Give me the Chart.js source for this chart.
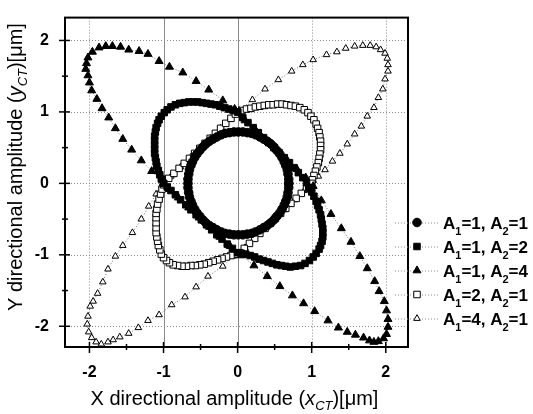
<!DOCTYPE html>
<html>
<head>
<meta charset="utf-8">
<script src="https://cdn.jsdelivr.net/npm/chart.js"></script>
<style>
  html, body { margin: 0; padding: 0; background: #fff; }
  #wrap { width: 533px; height: 414px; }
</style>
</head>
<body>
<div id="wrap"><canvas id="grafico" width="533" height="414"></canvas></div>
<script>
// Amplitudes A1 / A2 of each trace
const a1Values = [1, 1, 1, 2, 4];
const a2Values = [1, 2, 4, 1, 1];

// Axis ticks (major with label, minor without)
const xTicks = [-2, -1, 0, 1, 2];
const yTicks = [-2, -1, 0, 1, 2];
const xMinor = [-1.5, -0.5, 0.5, 1.5];
const yMinor = [-1.5, -0.5, 0.5, 1.5];

// Trajectories, [x, y] in um
const orbit11 = [
  [0.69,0.00],[0.69,0.06],[0.68,0.13],[0.67,0.19],[0.65,0.25],[0.63,0.30],[0.60,0.36],[0.57,0.41],[0.53,0.46],[0.49,0.51],[0.45,0.55],[0.40,0.59],[0.35,0.62],[0.30,0.65],[0.24,0.68],[0.19,0.70],[0.13,0.71],[0.07,0.72],
  [0.01,0.72],[-0.05,0.72],[-0.11,0.71],[-0.17,0.70],[-0.22,0.68],[-0.28,0.65],[-0.33,0.62],[-0.38,0.59],[-0.43,0.55],[-0.47,0.51],[-0.51,0.46],[-0.55,0.41],[-0.58,0.36],[-0.61,0.30],[-0.63,0.25],[-0.65,0.19],[-0.66,0.13],[-0.67,0.06],
  [-0.67,0.00],[-0.67,-0.06],[-0.66,-0.13],[-0.65,-0.19],[-0.63,-0.25],[-0.61,-0.30],[-0.58,-0.36],[-0.55,-0.41],[-0.51,-0.46],[-0.47,-0.51],[-0.43,-0.55],[-0.38,-0.59],[-0.33,-0.62],[-0.28,-0.65],[-0.22,-0.68],[-0.17,-0.70],[-0.11,-0.71],[-0.05,-0.72],
  [0.01,-0.72],[0.07,-0.72],[0.13,-0.71],[0.19,-0.70],[0.24,-0.68],[0.30,-0.65],[0.35,-0.62],[0.40,-0.59],[0.45,-0.55],[0.49,-0.51],[0.53,-0.46],[0.57,-0.41],[0.60,-0.36],[0.63,-0.30],[0.65,-0.25],[0.67,-0.19],[0.68,-0.13],[0.69,-0.06],[0.69,0.00]
];

const orbit12 = [
  [-1.00,0.00],[-1.03,0.06],[-1.05,0.12],[-1.07,0.18],[-1.09,0.24],[-1.10,0.30],[-1.11,0.36],[-1.12,0.42],[-1.12,0.48],[-1.12,0.54],[-1.12,0.60],[-1.12,0.66],[-1.11,0.72],[-1.10,0.78],[-1.08,0.84],[-1.06,0.89],[-1.03,0.94],[-0.99,0.99],[-0.95,1.03],[-0.90,1.07],[-0.84,1.10],[-0.78,1.12],[-0.72,1.13],[-0.66,1.14],[-0.60,1.14],[-0.54,1.14],[-0.48,1.13],[-0.42,1.12],[-0.36,1.11],[-0.30,1.10],[-0.24,1.08],[-0.18,1.06],[-0.12,1.04],[-0.06,1.02],[0.00,1.00],
  [0.07,0.92],[0.14,0.85],[0.21,0.78],[0.28,0.71],[0.35,0.64],[0.42,0.57],[0.49,0.50],[0.56,0.43],[0.63,0.36],[0.70,0.29],[0.76,0.22],[0.82,0.15],[0.88,0.08],[0.93,0.01],
  [0.96,-0.06],[1.00,-0.12],[1.03,-0.18],[1.06,-0.25],[1.08,-0.31],[1.10,-0.37],[1.12,-0.44],[1.13,-0.50],[1.14,-0.57],[1.15,-0.63],[1.15,-0.69],[1.15,-0.75],[1.14,-0.81],[1.12,-0.87],[1.10,-0.92],[1.06,-0.98],[1.02,-1.03],[0.97,-1.08],[0.91,-1.12],[0.85,-1.15],[0.78,-1.16],[0.71,-1.17],[0.65,-1.16],[0.59,-1.15],[0.53,-1.14],[0.47,-1.12],[0.41,-1.10],[0.35,-1.08],[0.29,-1.06],[0.23,-1.03],[0.17,-1.01],[0.11,-0.99],[0.05,-0.98],[0.00,-0.97],
  [-0.07,-0.91],[-0.14,-0.85],[-0.21,-0.78],[-0.28,-0.72],[-0.35,-0.65],[-0.42,-0.58],[-0.49,-0.51],[-0.56,-0.44],[-0.63,-0.37],[-0.70,-0.30],[-0.77,-0.23],[-0.84,-0.16],[-0.90,-0.10],[-0.95,-0.05],[-1.00,0.00]
];

const orbit14 = [
  [-1.00,0.00],[-1.16,0.17],[-1.30,0.32],[-1.43,0.47],[-1.55,0.62],[-1.65,0.77],[-1.74,0.92],[-1.83,1.05],[-1.90,1.18],[-1.97,1.30],[-2.00,1.41],[-2.02,1.51],[-2.05,1.60],[-2.04,1.68],[-2.02,1.76],[-1.96,1.84],[-1.87,1.90],[-1.78,1.92],[-1.69,1.92],[-1.58,1.91],[-1.47,1.87],[-1.33,1.85],[-1.21,1.81],[-1.06,1.71],[-0.92,1.63],[-0.74,1.55],[-0.56,1.43],[-0.39,1.31],[-0.20,1.16],[-0.04,1.04],
  [0.10,0.88],[0.24,0.75],[0.38,0.61],[0.52,0.48],[0.66,0.34],[0.80,0.20],[0.92,0.08],
  [1.02,-0.04],[1.13,-0.24],[1.26,-0.43],[1.40,-0.63],[1.53,-0.82],[1.65,-1.02],[1.75,-1.19],[1.85,-1.37],[1.91,-1.51],[1.98,-1.65],[2.01,-1.78],[2.03,-1.90],[2.03,-2.01],[2.01,-2.11],[1.97,-2.17],[1.90,-2.21],[1.84,-2.22],[1.78,-2.20],[1.70,-2.16],[1.59,-2.12],[1.48,-2.08],[1.36,-2.02],[1.22,-1.92],[1.04,-1.79],[0.89,-1.68],[0.74,-1.57],[0.57,-1.44],[0.40,-1.30],[0.22,-1.15],[0.05,-1.01],
  [-0.10,-0.88],[-0.24,-0.75],[-0.38,-0.61],[-0.52,-0.48],[-0.66,-0.34],[-0.80,-0.20],[-0.92,-0.08],[-1.00,0.00]
];

const orbit21 = [
  [0.00,1.00],[0.06,1.02],[0.12,1.04],[0.18,1.05],[0.24,1.07],[0.30,1.08],[0.36,1.09],[0.42,1.10],[0.48,1.10],[0.54,1.11],[0.60,1.11],[0.66,1.10],[0.72,1.09],[0.78,1.08],[0.84,1.06],[0.90,1.03],[0.95,0.99],[0.99,0.94],[1.03,0.89],[1.06,0.83],[1.08,0.77],[1.10,0.71],[1.11,0.65],[1.12,0.59],[1.12,0.53],[1.12,0.47],[1.11,0.41],[1.10,0.35],[1.09,0.29],[1.07,0.23],[1.05,0.17],[1.03,0.11],[1.01,0.05],[1.00,0.00],
  [0.93,-0.07],[0.86,-0.14],[0.79,-0.21],[0.72,-0.28],[0.65,-0.35],[0.58,-0.42],[0.51,-0.49],[0.44,-0.56],[0.37,-0.63],[0.30,-0.70],[0.23,-0.77],[0.16,-0.84],[0.09,-0.91],[0.03,-0.97],
  [-0.03,-0.99],[-0.09,-1.01],[-0.15,-1.03],[-0.21,-1.05],[-0.27,-1.07],[-0.33,-1.09],[-0.39,-1.11],[-0.45,-1.13],[-0.51,-1.14],[-0.57,-1.15],[-0.63,-1.15],[-0.69,-1.16],[-0.75,-1.16],[-0.81,-1.15],[-0.87,-1.14],[-0.92,-1.11],[-0.96,-1.08],[-1.00,-1.04],[-1.03,-0.99],[-1.05,-0.93],[-1.07,-0.87],[-1.08,-0.81],[-1.09,-0.75],[-1.10,-0.69],[-1.10,-0.62],[-1.10,-0.55],[-1.10,-0.48],[-1.10,-0.42],[-1.09,-0.36],[-1.08,-0.29],[-1.06,-0.22],[-1.04,-0.15],[-1.02,-0.08],[-1.00,-0.02],
  [-0.93,0.07],[-0.86,0.14],[-0.79,0.21],[-0.72,0.28],[-0.65,0.35],[-0.58,0.42],[-0.51,0.49],[-0.44,0.56],[-0.37,0.63],[-0.30,0.70],[-0.23,0.77],[-0.16,0.84],[-0.09,0.91],[-0.03,0.97],[0.00,1.00]
];

const orbit41 = [
  [0.02,1.02],[0.20,1.17],[0.37,1.32],[0.55,1.45],[0.73,1.57],[0.88,1.66],[1.02,1.73],[1.20,1.80],[1.34,1.84],[1.46,1.89],[1.58,1.92],[1.69,1.93],[1.79,1.93],[1.87,1.91],[1.93,1.87],[1.99,1.82],[2.02,1.75],[2.03,1.66],[2.03,1.57],[1.99,1.46],[1.96,1.32],[1.90,1.20],[1.84,1.06],[1.75,0.94],[1.67,0.80],[1.58,0.69],[1.48,0.55],[1.38,0.42],[1.28,0.31],[1.18,0.19],[1.09,0.10],[1.02,0.04],
  [0.90,-0.10],[0.77,-0.23],[0.63,-0.37],[0.50,-0.50],[0.37,-0.63],[0.23,-0.77],[0.10,-0.90],
  [-0.06,-1.02],[-0.20,-1.16],[-0.40,-1.30],[-0.56,-1.45],[-0.71,-1.59],[-0.89,-1.70],[-1.06,-1.84],[-1.21,-1.92],[-1.34,-2.02],[-1.47,-2.10],[-1.59,-2.15],[-1.68,-2.19],[-1.75,-2.22],[-1.84,-2.25],[-1.91,-2.22],[-1.97,-2.16],[-2.01,-2.08],[-2.03,-1.97],[-2.02,-1.86],[-1.99,-1.72],[-1.95,-1.65],[-1.89,-1.54],[-1.82,-1.38],[-1.75,-1.20],[-1.65,-1.02],[-1.55,-0.87],[-1.42,-0.69],[-1.30,-0.50],[-1.20,-0.32],[-1.10,-0.15],[-1.02,-0.03],
  [-0.90,0.10],[-0.77,0.23],[-0.63,0.37],[-0.50,0.50],[-0.37,0.63],[-0.23,0.77],[-0.10,0.90],[0.02,1.02]
];

const orbits = [orbit11, orbit12, orbit14, orbit21, orbit41];

// Marker look of each trace
const markers = [
  { style: 'circle',   radius: 4.3, fill: '#000' },
  { style: 'rect',     radius: 4.6, fill: '#000' },
  { style: 'triangle', radius: 4.6, fill: '#000' },
  { style: 'rect',     radius: 4.6, fill: '#fff' },
  { style: 'triangle', radius: 3.8, fill: '#fff' }
];

const FONT = "'Liberation Sans', Arial, sans-serif";

// Writes a list of text pieces [text, font, dy] one after another
function drawRuns(ctx, runs, x, y, align) {
  let total = 0;
  runs.forEach(r => { ctx.font = r[1]; total += ctx.measureText(r[0]).width; });
  let cx = align === 'center' ? x - total / 2 : x;
  ctx.textAlign = 'left';
  ctx.textBaseline = 'alphabetic';
  runs.forEach(r => {
    ctx.font = r[1];
    ctx.fillText(r[0], cx, y + r[2]);
    cx += ctx.measureText(r[0]).width;
  });
}

function drawMarker(ctx, m, x, y) {
  ctx.beginPath();
  if (m.style === 'circle') {
    ctx.arc(x, y, m.radius, 0, Math.PI * 2);
  } else if (m.style === 'rect') {
    const s = m.radius * Math.SQRT1_2;
    ctx.rect(x - s, y - s, 2 * s, 2 * s);
  } else {
    ctx.moveTo(x, y - m.radius);
    ctx.lineTo(x + m.radius * 0.866, y + m.radius * 0.5);
    ctx.lineTo(x - m.radius * 0.866, y + m.radius * 0.5);
    ctx.closePath();
  }
  ctx.fillStyle = m.fill;
  ctx.fill();
  ctx.lineWidth = 1;
  ctx.strokeStyle = '#000';
  ctx.stroke();
}

// Grid, frame, tick marks, axis titles and legend
const frame = {
  id: 'frame',
  beforeDatasetsDraw(chart) {
    const { ctx, chartArea: a, scales: { x, y } } = chart;
    ctx.save();
    ctx.lineWidth = 1;
    ctx.strokeStyle = '#8a8a8a';
    xTicks.forEach(v => {
      const px = Math.round(x.getPixelForValue(v)) + 0.5;
      ctx.setLineDash(v === -1 || v === 0 ? [] : [1, 2]);
      ctx.beginPath(); ctx.moveTo(px, a.top); ctx.lineTo(px, a.bottom); ctx.stroke();
    });
    ctx.setLineDash([1, 2]);
    yTicks.forEach(v => {
      const py = Math.round(y.getPixelForValue(v)) + 0.5;
      ctx.beginPath(); ctx.moveTo(a.left, py); ctx.lineTo(a.right, py); ctx.stroke();
    });
    ctx.restore();
  },
  afterDatasetsDraw(chart) {
    const { ctx, chartArea: a, scales: { x, y } } = chart;
    ctx.save();
    ctx.strokeStyle = '#000';
    ctx.lineWidth = 2;
    ctx.strokeRect(a.left, a.top, a.right - a.left, a.bottom - a.top);
    ctx.lineWidth = 1.5;
    const seg = (x1, y1, x2, y2) => { ctx.beginPath(); ctx.moveTo(x1, y1); ctx.lineTo(x2, y2); ctx.stroke(); };
    xTicks.forEach(v => { const p = x.getPixelForValue(v); seg(p, a.bottom - 5, p, a.bottom + 6); });
    xMinor.forEach(v => { const p = x.getPixelForValue(v); seg(p, a.bottom - 3, p, a.bottom + 3); });
    yTicks.forEach(v => { const p = y.getPixelForValue(v); seg(a.left - 6, p, a.left + 5, p); });
    yMinor.forEach(v => { const p = y.getPixelForValue(v); seg(a.left - 3, p, a.left + 3, p); });
    ctx.restore();
  },
  afterDraw(chart) {
    const { ctx, chartArea: a } = chart;
    ctx.save();
    ctx.fillStyle = '#000';

    // X axis title
    drawRuns(ctx, [
      ['X directional amplitude (', '20px ' + FONT, 0],
      ['x', 'italic 20px ' + FONT, 0],
      ['CT', 'italic 13px ' + FONT, 5],
      [')[\u03bcm]', '20px ' + FONT, 0]
    ], (a.left + a.right) / 2 - 2, 405, 'center');

    // Y axis title
    ctx.save();
    ctx.translate(22, 167);
    ctx.rotate(-Math.PI / 2);
    drawRuns(ctx, [
      ['Y directional amplitude (', '20px ' + FONT, 0],
      ['y', 'italic 20px ' + FONT, 0],
      ['CT', 'italic 13px ' + FONT, 5],
      [')[\u03bcm]', '20px ' + FONT, 0]
    ], 0, 0, 'center');
    ctx.restore();

    // Legend
    a1Values.forEach((a1, i) => {
      const yy = 222.5 + i * 24;
      ctx.save();
      ctx.strokeStyle = '#8a8a8a';
      ctx.lineWidth = 1;
      ctx.setLineDash([1, 2]);
      ctx.beginPath(); ctx.moveTo(395, yy + 0.5); ctx.lineTo(438, yy + 0.5); ctx.stroke();
      ctx.restore();
      drawMarker(ctx, markers[i], 417, yy);
      ctx.fillStyle = '#000';
      drawRuns(ctx, [
        ['A', 'bold 17px ' + FONT, 0],
        ['1', 'bold 11px ' + FONT, 6],
        ['=' + a1 + ', A', 'bold 17px ' + FONT, 0],
        ['2', 'bold 11px ' + FONT, 6],
        ['=' + a2Values[i], 'bold 17px ' + FONT, 0]
      ], 443, yy + 6, 'left');
    });
    ctx.restore();
  }
};

const datasets = orbits.map((orbit, i) => ({
  label: 'A1=' + a1Values[i] + ', A2=' + a2Values[i],
  data: orbit.map(p => ({ x: p[0], y: p[1] })),
  showLine: true,
  borderColor: '#707070',
  borderWidth: 1,
  borderDash: [1, 2],
  pointStyle: markers[i].style,
  pointRadius: markers[i].radius,
  pointBackgroundColor: markers[i].fill,
  pointBorderColor: '#000',
  pointBorderWidth: 1
}));

const tickFont = { family: FONT, size: 16, weight: 'bold' };

new Chart(document.getElementById('grafico'), {
  type: 'scatter',
  data: { datasets: datasets },
  options: {
    responsive: false,
    animation: false,
    layout: { padding: { top: 6, right: 125, left: 0, bottom: 0 } },
    plugins: { legend: { display: false }, tooltip: { enabled: false } },
    scales: {
      x: {
        type: 'linear', min: -2.33, max: 2.30,
        afterFit(s) { s.height = 67; },
        grid: { display: false }, border: { display: false },
        ticks: { stepSize: 1, includeBounds: false, color: '#000', font: tickFont, padding: 8 }
      },
      y: {
        type: 'linear', min: -2.29, max: 2.32,
        afterFit(s) { s.width = 65; },
        grid: { display: false }, border: { display: false },
        ticks: { stepSize: 1, includeBounds: false, color: '#000', font: tickFont, padding: 8 }
      }
    }
  },
  plugins: [frame]
});
</script>
</body>
</html>
